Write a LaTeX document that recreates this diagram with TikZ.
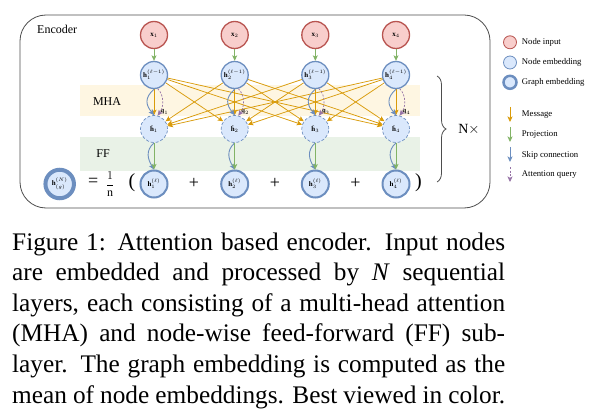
\documentclass[tikz,border=0pt]{standalone}
\usepackage{fontspec}
\setmainfont{Liberation Serif}
\usetikzlibrary{arrows.meta,decorations.pathreplacing,backgrounds}
\definecolor{xfill}{HTML}{F8CECC}
\definecolor{xdraw}{HTML}{B85450}
\definecolor{hfill}{HTML}{DAE8FC}
\definecolor{hdraw}{HTML}{6C8EBF}
\definecolor{msgc}{HTML}{D99B0A}
\definecolor{projc}{HTML}{82B366}
\definecolor{skipc}{HTML}{6C8EBF}
\definecolor{qc}{HTML}{9673A6}
\definecolor{mhafill}{HTML}{FEF6E2}
\definecolor{fffill}{HTML}{E9F2E7}
\definecolor{boxc}{HTML}{4D4D4D}
\begin{document}
\begin{tikzpicture}[x=1pt,y=-1pt,
  nlab/.style={font=\fontsize{7}{8}\selectfont},
  inp/.style={circle,minimum size=27pt,inner sep=0pt,fill=xfill,draw=xdraw,line width=1.3pt,nlab},
  emb/.style={circle,minimum size=27pt,inner sep=0pt,fill=hfill,draw=hdraw,line width=1.3pt,nlab},
  hatn/.style={emb,line width=0.7pt,dash pattern=on 3pt off 2pt},
  outn/.style={emb,line width=2pt},
  graphn/.style={emb,minimum size=28.5pt,line width=4pt},
  tipped/.style={-{Stealth[length=5.5pt,width=5pt,inset=1.3pt]}},
  msg/.style={tipped,color=msgc,line width=0.75pt},
  proj/.style={tipped,color=projc,line width=0.9pt},
  skip/.style={tipped,color=skipc,line width=0.9pt},
  query/.style={tipped,color=qc,line width=0.7pt,dash pattern=on 2pt off 1.5pt},
  lfont/.style={font=\fontsize{8.7}{10}\selectfont,inner sep=0pt,anchor=west},
  big/.style={font=\fontsize{18}{20}\selectfont,inner sep=0pt},
]
\useasboundingbox (0,0) rectangle (612,414);

% nodes of the four columns
\foreach \i/\xx in {1/154,2/234.7,3/315.3,4/396}{
  \node[inp]  (x\i)   at (\xx,35)  {$\mathbf{x}_{\i}$};
  \node[emb]  (hp\i)  at (\xx,75)  {$\mathbf{h}^{(\ell-1)}_{\i}$};
  \node[hatn] (hat\i) at (\xx,129) {$\hat{\mathbf{h}}_{\i}$};
  \node[outn] (out\i) at (\xx,184) {$\mathbf{h}^{(\ell)}_{\i}$};
  \node[font=\fontsize{6.5}{7}\selectfont,inner sep=0pt] (q\i) at (\xx+10.5,112) {$\mathbf{q}_{\i}$};
}
\node[graphn] (g) at (59.7,184) {$\mathbf{h}^{(N)}_{(g)}$};

% labels
\node[font=\fontsize{12}{14}\selectfont,inner sep=0pt,anchor=west] (enc) at (37,29) {Encoder};
\node[font=\fontsize{12}{14}\selectfont,inner sep=0pt] (mhal) at (107,101.5) {MHA};
\node[font=\fontsize{12}{14}\selectfont,inner sep=0pt] (ffl) at (103,153.5) {FF};
\node[big] (eq) at (93.3,182) {=};
\node[font=\fontsize{12}{14}\selectfont,inner sep=0pt] (frac) at (110,184) {$\displaystyle\frac{1}{\mathrm{n}}$};
\node[big,font=\fontsize{20}{22}\selectfont] (lp) at (132,182.5) {(};
\node[big] (p1) at (194,183) {+};
\node[big] (p2) at (275,183) {+};
\node[big] (p3) at (355.5,183) {+};
\node[big,font=\fontsize{20}{22}\selectfont] (rp) at (418.5,182.5) {)};
\node[font=\fontsize{14}{16}\selectfont,inner sep=0pt] (nx) at (469,129.5) {N$\times$};

% background: encoder frame and bands
\begin{scope}[on background layer]
  \draw[boxc,line width=0.8pt,rounded corners=26pt] (20,15) rectangle (490,208);
  \fill[mhafill] (80,85) rectangle (420,116);
  \fill[fffill] (80,137) rectangle (420,171);
\end{scope}

% brace
\coordinate (bt) at (437,76);
\coordinate (bb) at (437,182);
\draw[boxc,line width=0.8pt,decorate,decoration={brace,amplitude=9pt}] (bt) -- (bb);

% projections input -> embedding
\foreach \i in {1,...,4}{
  \draw[proj] (x\i) -- (hp\i);
}
% messages
\foreach \j in {1,...,4}{
  \foreach \i in {1,...,4}{
    \ifnum\i=\j
      \draw[msg] (hp\j.south) -- (hat\i.north);
    \else
      \draw[msg] (hp\j) -- (hat\i);
    \fi
  }
}
% skip connections and queries
\foreach \i in {1,...,4}{
  \draw[skip] (hp\i.south) .. controls +(-10,9) and +(-8,-10) .. (hat\i.north);
  \draw[query] (hp\i.285) .. controls +(7,7) and +(6,-8) .. (hat\i.75);
  \draw[skip] (hat\i.south) .. controls +(-9,8) and +(-6,-10) .. (out\i.north);
  \draw[proj] (hat\i.south) -- (out\i.north);
}

% legend
\node[inp,minimum size=13pt,line width=0.8pt] (lin) at (510,42.3) {};
\node[lfont] (lint) at (521.7,42.3) {Node input};
\node[emb,minimum size=13pt,line width=0.8pt] (lemb) at (510,62.5) {};
\node[lfont] (lembt) at (521.7,62.5) {Node embedding};
\node[emb,minimum size=13pt,line width=2.5pt] (lgr) at (510,82.3) {};
\node[lfont] (lgrt) at (521.7,82.3) {Graph embedding};
\coordinate (lm1) at (510,107); \coordinate (lm2) at (510,122);
\coordinate (lp1) at (510,127); \coordinate (lp2) at (510,142);
\coordinate (ls1) at (510,147); \coordinate (ls2) at (510,162);
\coordinate (lq1) at (510,167); \coordinate (lq2) at (510,182);
\draw[msg] (lm1) -- (lm2);
\draw[proj] (lp1) -- (lp2);
\draw[skip] (ls1) -- (ls2);
\draw[query] (lq1) -- (lq2);
\node[lfont] (lmt) at (521.7,115) {Message};
\node[lfont] (lpt) at (521.7,135) {Projection};
\node[lfont] (lst) at (521.7,155) {Skip connection};
\node[lfont] (lqt) at (521.7,175) {Attention query};

% caption
\node[inner sep=0pt,anchor=base west] (cap) at (12,250) {\parbox[t]{493pt}{\fontsize{25.3}{30.6}\selectfont\tolerance=9999\hbadness=10000
Figure 1: Attention based encoder. Input nodes\linebreak
are embedded and processed by \textit{N} sequential\linebreak
layers, each consisting of a multi-head attention\linebreak
(MHA) and node-wise feed-forward (FF) sub-\linebreak
layer. The graph embedding is computed as the\linebreak
mean of node embeddings. Best viewed in color.}};
\end{tikzpicture}
\end{document}
